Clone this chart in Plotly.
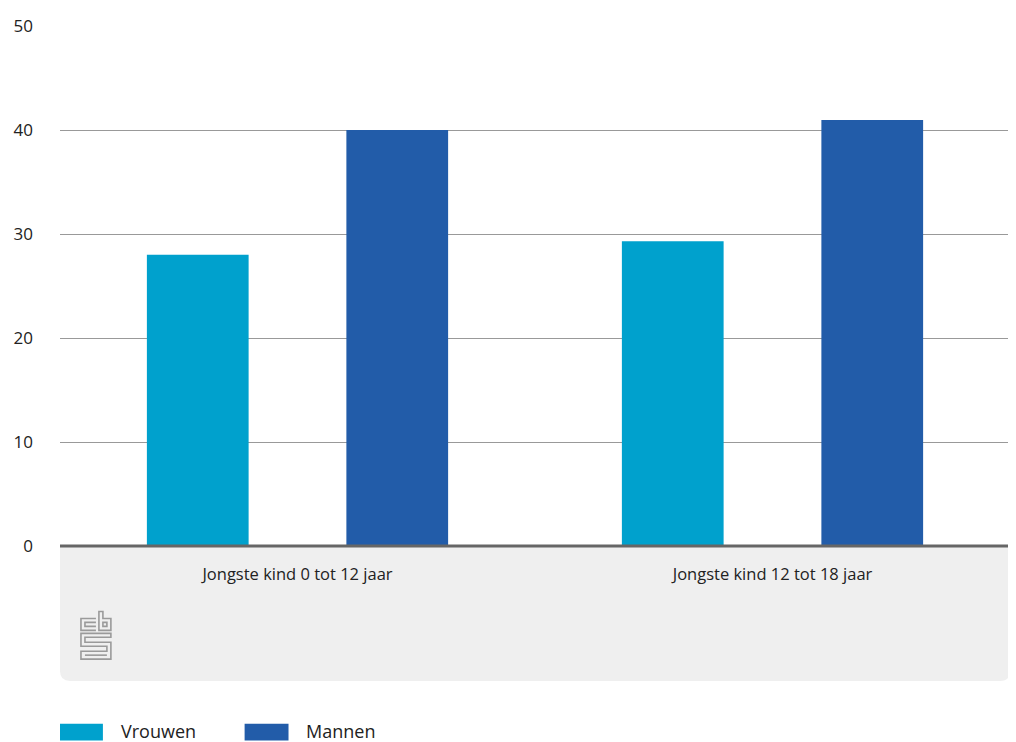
import plotly.graph_objects as go

categories = ["Jongste kind 0 tot 12 jaar", "Jongste kind 12 tot 18 jaar"]
vrouwen = [28.0, 29.3]
mannen = [40.0, 40.95]
series_names = ["Vrouwen", "Mannen"]
colors = ["#00a1cd", "#225ca9"]
y_ticks = [0, 10, 20, 30, 40, 50]

# the page body adds an 8px margin; work in screen pixels and subtract it
OFF = 8
W, H = 1016 - OFF, 742 - OFF
L, R, T, B = 58, 1010, 22, 546  # screen pixels of plot area

def px(x):
    return (x - L) / (R - L)

def py(y):
    return (B - y) / (B - T)

fig = go.Figure()
for name, vals, col in zip(series_names, [vrouwen, mannen], colors):
    fig.add_trace(go.Bar(name=name, x=categories, y=vals, marker=dict(color=col, line=dict(width=0)),
                         showlegend=False))

shapes = []
r = 10
x0, x1, y0, y1 = L, R, B, 682
path = (f"M {px(x0)},{py(y0)} L {px(x1)},{py(y0)} L {px(x1)},{py(y1 - r)} "
        f"Q {px(x1)},{py(y1)} {px(x1 - r)},{py(y1)} L {px(x0 + r)},{py(y1)} "
        f"Q {px(x0)},{py(y1)} {px(x0)},{py(y1 - r)} Z")
shapes.append(dict(type="path", xref="paper", yref="paper", path=path,
                   fillcolor="#efefef", line=dict(width=0), layer="below"))
shapes.append(dict(type="line", xref="paper", yref="paper", x0=0, x1=1, y0=py(546), y1=py(546),
                   line=dict(color="#666666", width=3)))

logo_col = "#9a9a9a"
def rectpath(ax, ay, bx, by):
    return f"M {px(ax)},{py(ay)} L {px(bx)},{py(ay)} L {px(bx)},{py(by)} L {px(ax)},{py(by)} Z"
logo_paths = [
    f"M {px(94)},{py(619)} L {px(79)},{py(619)} L {px(79)},{py(631)} L {px(94)},{py(631)}",
    f"M {px(94)},{py(623)} L {px(83)},{py(623)} L {px(83)},{py(627)} L {px(94)},{py(627)}",
    f"M {px(97)},{py(612)} L {px(97)},{py(631)} L {px(109)},{py(631)} L {px(109)},{py(619)} L {px(101)},{py(619)} L {px(101)},{py(612)} Z",
    rectpath(101, 623, 105, 627),
    f"M {px(109)},{py(634)} L {px(79)},{py(634)} L {px(79)},{py(647)} L {px(105)},{py(647)} L {px(105)},{py(652)} L {px(79)},{py(652)} L {px(79)},{py(660)} L {px(109)},{py(660)} L {px(109)},{py(643)} L {px(83)},{py(643)} L {px(83)},{py(638)} L {px(109)},{py(638)} Z",
    f"M {px(83)},{py(656)} L {px(105)},{py(656)}",
]
for p in logo_paths:
    shapes.append(dict(type="path", xref="paper", yref="paper", path=p,
                       line=dict(color=logo_col, width=1.6), fillcolor="rgba(0,0,0,0)"))

annotations = []
leg = [(58, 101, 117), (243, 287, 303)]
for (a, b, tx), name, col in zip(leg, series_names, colors):
    shapes.append(dict(type="rect", xref="paper", yref="paper", x0=px(a), x1=px(b),
                       y0=py(742), y1=py(725), fillcolor=col, line=dict(width=0)))
    annotations.append(dict(xref="paper", yref="paper", x=px(tx), y=py(732), text=name,
                            showarrow=False, xanchor="left", yanchor="middle",
                            font=dict(size=18, color="#222222")))

fig.update_layout(
    width=W, height=H,
    margin=dict(l=L - OFF, r=W - (R - OFF), t=T - OFF, b=H - (B - OFF), pad=0),
    paper_bgcolor="white", plot_bgcolor="white",
    barmode="group", bargap=0.16, bargroupgap=0.49,
    font=dict(family="Open Sans", size=16, color="#222222"),
    shapes=shapes, annotations=annotations,
    xaxis=dict(showgrid=False, showline=False, zeroline=False, ticks="",
               tickfont=dict(size=16.5, color="#222222"), ticklabelstandoff=16),
    yaxis=dict(range=[0, 50], tickvals=y_ticks, showgrid=True, gridcolor="#999999", gridwidth=1,
               zeroline=False, showline=False, ticks="", ticklabelstandoff=26,
               tickfont=dict(size=17, color="#222222")),
)

fig.write_html("out.html")
